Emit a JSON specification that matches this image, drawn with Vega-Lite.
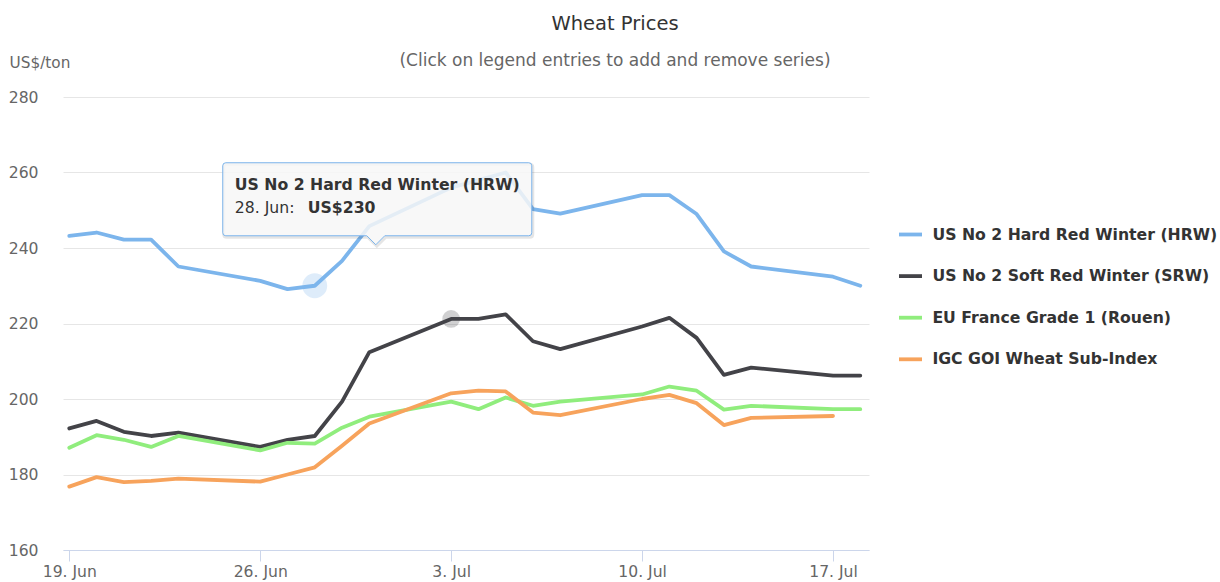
{
  "$schema": "https://vega.github.io/schema/vega-lite/v6.json",
  "width": 806,
  "height": 453,
  "autosize": {"type": "none"},
  "padding": {"left": 63, "top": 97, "right": 351, "bottom": 32},
  "background": "white",
  "config": {"font": "DejaVu Sans", "view": {"stroke": null}},
  "title": {
    "text": "Wheat Prices",
    "subtitle": "(Click on legend entries to add and remove series)",
    "anchor": "middle",
    "frame": "group",
    "dx": 149,
    "offset": -14.5,
    "font": "DejaVu Sans",
    "fontSize": 19.5,
    "fontWeight": "normal",
    "color": "#333333",
    "subtitleFont": "DejaVu Sans",
    "subtitleFontSize": 17,
    "subtitleColor": "#666666",
    "subtitlePadding": 18
  },
  "datasets": {
    "prices": [
      {"date": "2017-06-19", "series": "US No 2 Hard Red Winter (HRW)", "price": 243.2},
      {"date": "2017-06-20", "series": "US No 2 Hard Red Winter (HRW)", "price": 244.1},
      {"date": "2017-06-21", "series": "US No 2 Hard Red Winter (HRW)", "price": 242.2},
      {"date": "2017-06-22", "series": "US No 2 Hard Red Winter (HRW)", "price": 242.2},
      {"date": "2017-06-23", "series": "US No 2 Hard Red Winter (HRW)", "price": 235.1},
      {"date": "2017-06-26", "series": "US No 2 Hard Red Winter (HRW)", "price": 231.3},
      {"date": "2017-06-27", "series": "US No 2 Hard Red Winter (HRW)", "price": 229.1},
      {"date": "2017-06-28", "series": "US No 2 Hard Red Winter (HRW)", "price": 230},
      {"date": "2017-06-29", "series": "US No 2 Hard Red Winter (HRW)", "price": 236.6},
      {"date": "2017-06-30", "series": "US No 2 Hard Red Winter (HRW)", "price": 245.8},
      {"date": "2017-07-03", "series": "US No 2 Hard Red Winter (HRW)", "price": 256},
      {"date": "2017-07-04", "series": "US No 2 Hard Red Winter (HRW)", "price": 258},
      {"date": "2017-07-05", "series": "US No 2 Hard Red Winter (HRW)", "price": 260},
      {"date": "2017-07-06", "series": "US No 2 Hard Red Winter (HRW)", "price": 250.3},
      {"date": "2017-07-07", "series": "US No 2 Hard Red Winter (HRW)", "price": 249.1},
      {"date": "2017-07-10", "series": "US No 2 Hard Red Winter (HRW)", "price": 254},
      {"date": "2017-07-11", "series": "US No 2 Hard Red Winter (HRW)", "price": 254},
      {"date": "2017-07-12", "series": "US No 2 Hard Red Winter (HRW)", "price": 249},
      {"date": "2017-07-13", "series": "US No 2 Hard Red Winter (HRW)", "price": 239.1},
      {"date": "2017-07-14", "series": "US No 2 Hard Red Winter (HRW)", "price": 235.1},
      {"date": "2017-07-17", "series": "US No 2 Hard Red Winter (HRW)", "price": 232.4},
      {"date": "2017-07-18", "series": "US No 2 Hard Red Winter (HRW)", "price": 230},
      {"date": "2017-06-19", "series": "US No 2 Soft Red Winter (SRW)", "price": 192.2},
      {"date": "2017-06-20", "series": "US No 2 Soft Red Winter (SRW)", "price": 194.2},
      {"date": "2017-06-21", "series": "US No 2 Soft Red Winter (SRW)", "price": 191.3},
      {"date": "2017-06-22", "series": "US No 2 Soft Red Winter (SRW)", "price": 190.2},
      {"date": "2017-06-23", "series": "US No 2 Soft Red Winter (SRW)", "price": 191.1},
      {"date": "2017-06-26", "series": "US No 2 Soft Red Winter (SRW)", "price": 187.3},
      {"date": "2017-06-27", "series": "US No 2 Soft Red Winter (SRW)", "price": 189.2},
      {"date": "2017-06-28", "series": "US No 2 Soft Red Winter (SRW)", "price": 190.2},
      {"date": "2017-06-29", "series": "US No 2 Soft Red Winter (SRW)", "price": 199.3},
      {"date": "2017-06-30", "series": "US No 2 Soft Red Winter (SRW)", "price": 212.4},
      {"date": "2017-07-03", "series": "US No 2 Soft Red Winter (SRW)", "price": 221.2},
      {"date": "2017-07-04", "series": "US No 2 Soft Red Winter (SRW)", "price": 221.2},
      {"date": "2017-07-05", "series": "US No 2 Soft Red Winter (SRW)", "price": 222.4},
      {"date": "2017-07-06", "series": "US No 2 Soft Red Winter (SRW)", "price": 215.3},
      {"date": "2017-07-07", "series": "US No 2 Soft Red Winter (SRW)", "price": 213.2},
      {"date": "2017-07-10", "series": "US No 2 Soft Red Winter (SRW)", "price": 219.2},
      {"date": "2017-07-11", "series": "US No 2 Soft Red Winter (SRW)", "price": 221.5},
      {"date": "2017-07-12", "series": "US No 2 Soft Red Winter (SRW)", "price": 216.2},
      {"date": "2017-07-13", "series": "US No 2 Soft Red Winter (SRW)", "price": 206.4},
      {"date": "2017-07-14", "series": "US No 2 Soft Red Winter (SRW)", "price": 208.3},
      {"date": "2017-07-17", "series": "US No 2 Soft Red Winter (SRW)", "price": 206.2},
      {"date": "2017-07-18", "series": "US No 2 Soft Red Winter (SRW)", "price": 206.2},
      {"date": "2017-06-19", "series": "EU France Grade 1 (Rouen)", "price": 187.1},
      {"date": "2017-06-20", "series": "EU France Grade 1 (Rouen)", "price": 190.4},
      {"date": "2017-06-21", "series": "EU France Grade 1 (Rouen)", "price": 189.2},
      {"date": "2017-06-22", "series": "EU France Grade 1 (Rouen)", "price": 187.3},
      {"date": "2017-06-23", "series": "EU France Grade 1 (Rouen)", "price": 190.2},
      {"date": "2017-06-26", "series": "EU France Grade 1 (Rouen)", "price": 186.4},
      {"date": "2017-06-27", "series": "EU France Grade 1 (Rouen)", "price": 188.4},
      {"date": "2017-06-28", "series": "EU France Grade 1 (Rouen)", "price": 188.2},
      {"date": "2017-06-29", "series": "EU France Grade 1 (Rouen)", "price": 192.4},
      {"date": "2017-06-30", "series": "EU France Grade 1 (Rouen)", "price": 195.3},
      {"date": "2017-07-03", "series": "EU France Grade 1 (Rouen)", "price": 199.3},
      {"date": "2017-07-04", "series": "EU France Grade 1 (Rouen)", "price": 197.3},
      {"date": "2017-07-05", "series": "EU France Grade 1 (Rouen)", "price": 200.4},
      {"date": "2017-07-06", "series": "EU France Grade 1 (Rouen)", "price": 198.2},
      {"date": "2017-07-07", "series": "EU France Grade 1 (Rouen)", "price": 199.3},
      {"date": "2017-07-10", "series": "EU France Grade 1 (Rouen)", "price": 201.2},
      {"date": "2017-07-11", "series": "EU France Grade 1 (Rouen)", "price": 203.3},
      {"date": "2017-07-12", "series": "EU France Grade 1 (Rouen)", "price": 202.2},
      {"date": "2017-07-13", "series": "EU France Grade 1 (Rouen)", "price": 197.2},
      {"date": "2017-07-14", "series": "EU France Grade 1 (Rouen)", "price": 198.2},
      {"date": "2017-07-17", "series": "EU France Grade 1 (Rouen)", "price": 197.3},
      {"date": "2017-07-18", "series": "EU France Grade 1 (Rouen)", "price": 197.3},
      {"date": "2017-06-19", "series": "IGC GOI Wheat Sub-Index", "price": 176.8},
      {"date": "2017-06-20", "series": "IGC GOI Wheat Sub-Index", "price": 179.3},
      {"date": "2017-06-21", "series": "IGC GOI Wheat Sub-Index", "price": 178.0},
      {"date": "2017-06-22", "series": "IGC GOI Wheat Sub-Index", "price": 178.3},
      {"date": "2017-06-23", "series": "IGC GOI Wheat Sub-Index", "price": 178.9},
      {"date": "2017-06-26", "series": "IGC GOI Wheat Sub-Index", "price": 178.1},
      {"date": "2017-06-27", "series": "IGC GOI Wheat Sub-Index", "price": 180.0},
      {"date": "2017-06-28", "series": "IGC GOI Wheat Sub-Index", "price": 181.9},
      {"date": "2017-06-29", "series": "IGC GOI Wheat Sub-Index", "price": 187.6},
      {"date": "2017-06-30", "series": "IGC GOI Wheat Sub-Index", "price": 193.5},
      {"date": "2017-07-03", "series": "IGC GOI Wheat Sub-Index", "price": 201.5},
      {"date": "2017-07-04", "series": "IGC GOI Wheat Sub-Index", "price": 202.2},
      {"date": "2017-07-05", "series": "IGC GOI Wheat Sub-Index", "price": 202.0},
      {"date": "2017-07-06", "series": "IGC GOI Wheat Sub-Index", "price": 196.4},
      {"date": "2017-07-07", "series": "IGC GOI Wheat Sub-Index", "price": 195.7},
      {"date": "2017-07-10", "series": "IGC GOI Wheat Sub-Index", "price": 200.0},
      {"date": "2017-07-11", "series": "IGC GOI Wheat Sub-Index", "price": 201.1},
      {"date": "2017-07-12", "series": "IGC GOI Wheat Sub-Index", "price": 198.9},
      {"date": "2017-07-13", "series": "IGC GOI Wheat Sub-Index", "price": 193.1},
      {"date": "2017-07-14", "series": "IGC GOI Wheat Sub-Index", "price": 195.0},
      {"date": "2017-07-17", "series": "IGC GOI Wheat Sub-Index", "price": 195.5}
    ],
    "hover": [
      {"date": "2017-06-28", "price": 230, "series": "US No 2 Hard Red Winter (HRW)", "when": "28. Jun:", "value": "US$230"}
    ],
    "halo2": [
      {"date": "2017-07-03", "price": 221.2}
    ]
  },
  "layer": [
    {
      "data": {"name": "hover"},
      "mark": {"type": "point", "filled": true, "color": "#7cb5ec", "opacity": 0.25, "size": 616},
      "encoding": {
        "x": {"field": "date", "type": "temporal"},
        "y": {"field": "price", "type": "quantitative"}
      }
    },
    {
      "data": {"name": "halo2"},
      "mark": {"type": "point", "filled": true, "color": "#434348", "opacity": 0.25, "size": 314},
      "encoding": {
        "x": {"field": "date", "type": "temporal"},
        "y": {"field": "price", "type": "quantitative"}
      }
    },
    {
      "data": {"name": "prices"},
      "mark": {"type": "line", "strokeJoin": "round", "strokeCap": "round"},
      "encoding": {
        "x": {
          "field": "date",
          "type": "temporal",
          "scale": {
            "type": "utc",
            "domain": [
              {"year": 2017, "month": 6, "date": 18, "hours": 18, "minutes": 28, "utc": true},
              {"year": 2017, "month": 7, "date": 18, "hours": 7, "minutes": 40, "utc": true}
            ]
          },
          "axis": {
            "title": null,
            "values": [
              {"year": 2017, "month": 6, "date": 19, "utc": true},
              {"year": 2017, "month": 6, "date": 26, "utc": true},
              {"year": 2017, "month": 7, "date": 3, "utc": true},
              {"year": 2017, "month": 7, "date": 10, "utc": true},
              {"year": 2017, "month": 7, "date": 17, "utc": true}
            ],
            "format": "%-d. %b",
            "grid": false,
            "domainColor": "#ccd6eb",
            "domainWidth": 1,
            "tickColor": "#ccd6eb",
            "tickSize": 11,
            "labelFontSize": 15.6,
            "labelColor": "#666666",
            "labelBaseline": "middle",
            "labelPadding": 10.7,
            "labelFlush": false,
            "labelOverlap": false
          }
        },
        "y": {
          "field": "price",
          "type": "quantitative",
          "scale": {"domain": [160, 280], "nice": false, "zero": false},
          "axis": {
            "values": [160, 180, 200, 220, 240, 260, 280],
            "grid": true,
            "gridColor": "#e6e6e6",
            "domain": false,
            "ticks": false,
            "labelPadding": 25,
            "labelFontSize": 15.6,
            "labelColor": "#666666",
            "title": "US$/ton",
            "titleAngle": 0,
            "titleAlign": "left",
            "titleBaseline": "middle",
            "titleX": -54,
            "titleY": -35,
            "titleFontSize": 15.3,
            "titleFontWeight": "normal",
            "titleColor": "#666666"
          }
        },
        "color": {
          "field": "series",
          "type": "nominal",
          "scale": {
            "domain": ["US No 2 Hard Red Winter (HRW)", "US No 2 Soft Red Winter (SRW)", "EU France Grade 1 (Rouen)", "IGC GOI Wheat Sub-Index"],
            "range": ["#7cb5ec", "#434348", "#90ed7d", "#f7a35c"]
          },
          "legend": {
            "orient": "none",
            "legendX": 834,
            "legendY": 124,
            "title": null,
            "padding": 0,
            "symbolType": "stroke",
            "symbolSize": 529,
            "symbolStrokeWidth": 2,
            "labelFontSize": 15.7,
            "labelFontWeight": "bold",
            "labelColor": "#333333",
            "labelOffset": 8.4,
            "labelLimit": 400,
            "rowPadding": 19.6,
            "encode": {"symbols": {"update": {"strokeWidth": {"value": 2}}}}
          }
        },
        "strokeWidth": {
          "field": "series",
          "type": "nominal",
          "scale": {
            "domain": ["US No 2 Hard Red Winter (HRW)", "US No 2 Soft Red Winter (SRW)", "EU France Grade 1 (Rouen)", "IGC GOI Wheat Sub-Index"],
            "range": [3.8, 3.8, 2.3, 2.3]
          },
          "legend": null
        }
      }
    },
    {
      "data": {"name": "hover"},
      "mark": {
        "type": "point",
        "shape": "M-89,-123H214Q217,-123 217,-120V-53Q217,-50 214,-50H70L61,-41L52,-50H-89Q-92,-50 -92,-53V-120Q-92,-123 -89,-123Z",
        "size": 4,
        "filled": false,
        "stroke": "#000000",
        "strokeOpacity": 0.1,
        "strokeWidth": 3,
        "xOffset": 1,
        "yOffset": 1.5,
        "opacity": 1
      },
      "encoding": {
        "x": {"field": "date", "type": "temporal"},
        "y": {"field": "price", "type": "quantitative"}
      }
    },
    {
      "data": {"name": "hover"},
      "mark": {
        "type": "point",
        "shape": "M-89,-123H214Q217,-123 217,-120V-53Q217,-50 214,-50H70L61,-41L52,-50H-89Q-92,-50 -92,-53V-120Q-92,-123 -89,-123Z",
        "size": 4,
        "filled": true,
        "fill": "#f7f7f7",
        "fillOpacity": 0.85,
        "stroke": "#7cb5ec",
        "strokeWidth": 1,
        "opacity": 1
      },
      "encoding": {
        "x": {"field": "date", "type": "temporal"},
        "y": {"field": "price", "type": "quantitative"}
      }
    },
    {
      "data": {"name": "hover"},
      "mark": {"type": "text", "align": "left", "baseline": "middle", "dx": -80, "dy": -100.75, "fontSize": 15.7, "fontWeight": "bold", "color": "#333333"},
      "encoding": {
        "x": {"field": "date", "type": "temporal"},
        "y": {"field": "price", "type": "quantitative"},
        "text": {"field": "series", "type": "nominal"}
      }
    },
    {
      "data": {"name": "hover"},
      "mark": {"type": "text", "align": "left", "baseline": "middle", "dx": -80, "dy": -77.5, "fontSize": 15.7, "fontWeight": "normal", "color": "#333333"},
      "encoding": {
        "x": {"field": "date", "type": "temporal"},
        "y": {"field": "price", "type": "quantitative"},
        "text": {"field": "when", "type": "nominal"}
      }
    },
    {
      "data": {"name": "hover"},
      "mark": {"type": "text", "align": "left", "baseline": "middle", "dx": -7, "dy": -77.5, "fontSize": 15.7, "fontWeight": "bold", "color": "#333333"},
      "encoding": {
        "x": {"field": "date", "type": "temporal"},
        "y": {"field": "price", "type": "quantitative"},
        "text": {"field": "value", "type": "nominal"}
      }
    }
  ]
}
